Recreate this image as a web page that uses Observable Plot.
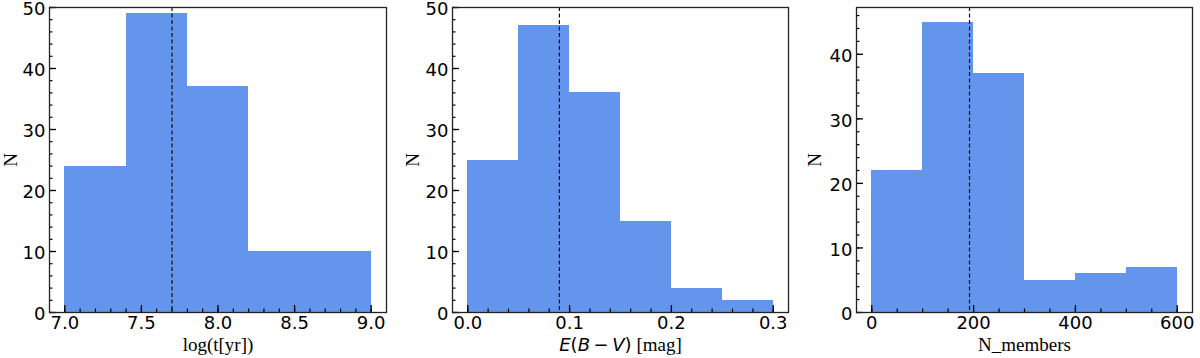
<!DOCTYPE html>
<html><head><meta charset="utf-8">
<script src="https://cdn.jsdelivr.net/npm/d3@7"></script>
<script src="https://cdn.jsdelivr.net/npm/@observablehq/plot@0.6"></script>
<style>
html,body{margin:0;padding:0;background:#fff;}
#row{display:flex;width:1200px;height:358px;}
#row > div{width:400px;height:358px;}
svg{display:block;}
</style></head><body>
<div id="row"><div id="p1"></div><div id="p2"></div><div id="p3"></div></div>
<script>
// --- data ---
const ageEdges = [7.0, 7.4, 7.8, 8.2, 8.6, 9.0];
const ageCounts = [24, 49, 37, 10, 10];
const ageMedian = 7.7;
const ageTicks = [7.0, 7.5, 8.0, 8.5, 9.0];

const ebvEdges = [0.0, 0.05, 0.10, 0.15, 0.20, 0.25, 0.30];
const ebvCounts = [25, 47, 36, 15, 4, 2];
const ebvMedian = 0.09;
const ebvTicks = [0.0, 0.1, 0.2, 0.3];

const nmemEdges = [0, 100, 200, 300, 400, 500, 600];
const nmemCounts = [22, 45, 37, 5, 6, 7];
const nmemMedian = 192;
const nmemTicks = [0, 200, 400, 600];

const nTicks50 = [0, 10, 20, 30, 40, 50];
const nTicks40 = [0, 10, 20, 30, 40];

function panel(o) {
  const W = 400, H = 358, mt = 7, mb = 46;
  const pw = W - o.ml - o.mr, ph = H - mt - mb;
  const bins = o.counts.map((c, i) => ({x1: o.edges[i], x2: o.edges[i + 1], n: c}));
  const svg = Plot.plot({
    width: W, height: H,
    marginLeft: o.ml, marginRight: o.mr, marginTop: mt, marginBottom: mb,
    style: {fontFamily: "DejaVu Sans", fontSize: "18px", color: "#000", background: "#fff", overflow: "visible"},
    x: {domain: o.xDomain},
    y: {domain: o.yDomain},
    marks: [
      Plot.rectY(bins, {x1: "x1", x2: "x2", y1: 0, y2: "n", fill: "#6495ED", inset: 0, shapeRendering: "crispEdges"}),
      Plot.ruleX([o.median], {x: d => d, stroke: "#111", strokeWidth: 1.2, strokeDasharray: "4,2.5"}),
      Plot.tickX(o.xMinor, {x: d => d, stroke: "#000", strokeWidth: 1.2, insetTop: ph - 3.5}),
      Plot.tickX(o.xTicks, {x: d => d, stroke: "#000", strokeWidth: 1.3, insetTop: ph - 7}),
      Plot.tickY(o.yMinor, {y: d => d, stroke: "#000", strokeWidth: 1.2, insetRight: pw - 3.5}),
      Plot.tickY(o.yTicks, {y: d => d, stroke: "#000", strokeWidth: 1.3, insetRight: pw - 7}),
      Plot.frame({stroke: "#222", strokeWidth: 1.3}),
      Plot.axisX(o.xTicks, {tickSize: 0, tickPadding: 4, tickFormat: o.fmt, fontSize: 18, label: o.xlabel,
        labelAnchor: "center", labelOffset: 38, labelArrow: "none"}),
      Plot.axisY(o.yTicks, {tickSize: 0, tickPadding: 4, fontSize: 18, dy: 2, label: "N",
        labelAnchor: "center", labelOffset: o.yOff, labelArrow: "none"})
    ]
  });
  const sel = d3.select(svg);
  sel.selectAll('[aria-label="y-axis label"] text').attr("font-family", "Liberation Serif").attr("font-size", 19);
  const xl = sel.selectAll('[aria-label="x-axis label"] text').attr("font-family", "Liberation Serif").attr("font-size", 19);
  if (o.rich) {
    xl.text(null);
    for (const [t, fam, it] of o.rich) {
      xl.append("tspan").attr("font-family", fam).attr("font-style", it ? "italic" : "normal")
        .attr("font-size", fam === "DejaVu Sans" ? 18 : 19).text(t);
    }
  }
  document.getElementById(o.id).appendChild(svg);
}

panel({id: "p1", ml: 49, mr: 14, edges: ageEdges, counts: ageCounts, median: ageMedian,
  xDomain: [6.9, 9.1], yDomain: [0, 50], xTicks: ageTicks, xMinor: d3.range(7.0, 9.0001, 0.1),
  yTicks: nTicks50, yMinor: d3.range(0, 50.001, 2), fmt: d3.format(".1f"), xlabel: "log(t[yr])", yOff: 46});

panel({id: "p2", ml: 52, mr: 12, edges: ebvEdges, counts: ebvCounts, median: ebvMedian,
  xDomain: [-0.015, 0.315], yDomain: [0, 50], xTicks: ebvTicks, xMinor: d3.range(0, 0.3001, 0.02),
  yTicks: nTicks50, yMinor: d3.range(0, 50.001, 2), fmt: d3.format(".1f"), xlabel: "E(B − V) [mag]", yOff: 47,
  rich: [["E", "DejaVu Sans", true], ["(", "DejaVu Sans", false], ["B", "DejaVu Sans", true],
         ["\u2009−\u2009", "DejaVu Sans", false], ["V", "DejaVu Sans", true], [")", "DejaVu Sans", false],
         [" [mag]", "Liberation Serif", false]]});

panel({id: "p3", ml: 56, mr: 8, edges: nmemEdges, counts: nmemCounts, median: nmemMedian,
  xDomain: [-30, 630], yDomain: [0, 47.25], xTicks: nmemTicks, xMinor: d3.range(0, 600.001, 50),
  yTicks: nTicks40, yMinor: d3.range(0, 46.001, 2), fmt: d3.format("d"), xlabel: "N_members", yOff: 49});
</script>
</body></html>
